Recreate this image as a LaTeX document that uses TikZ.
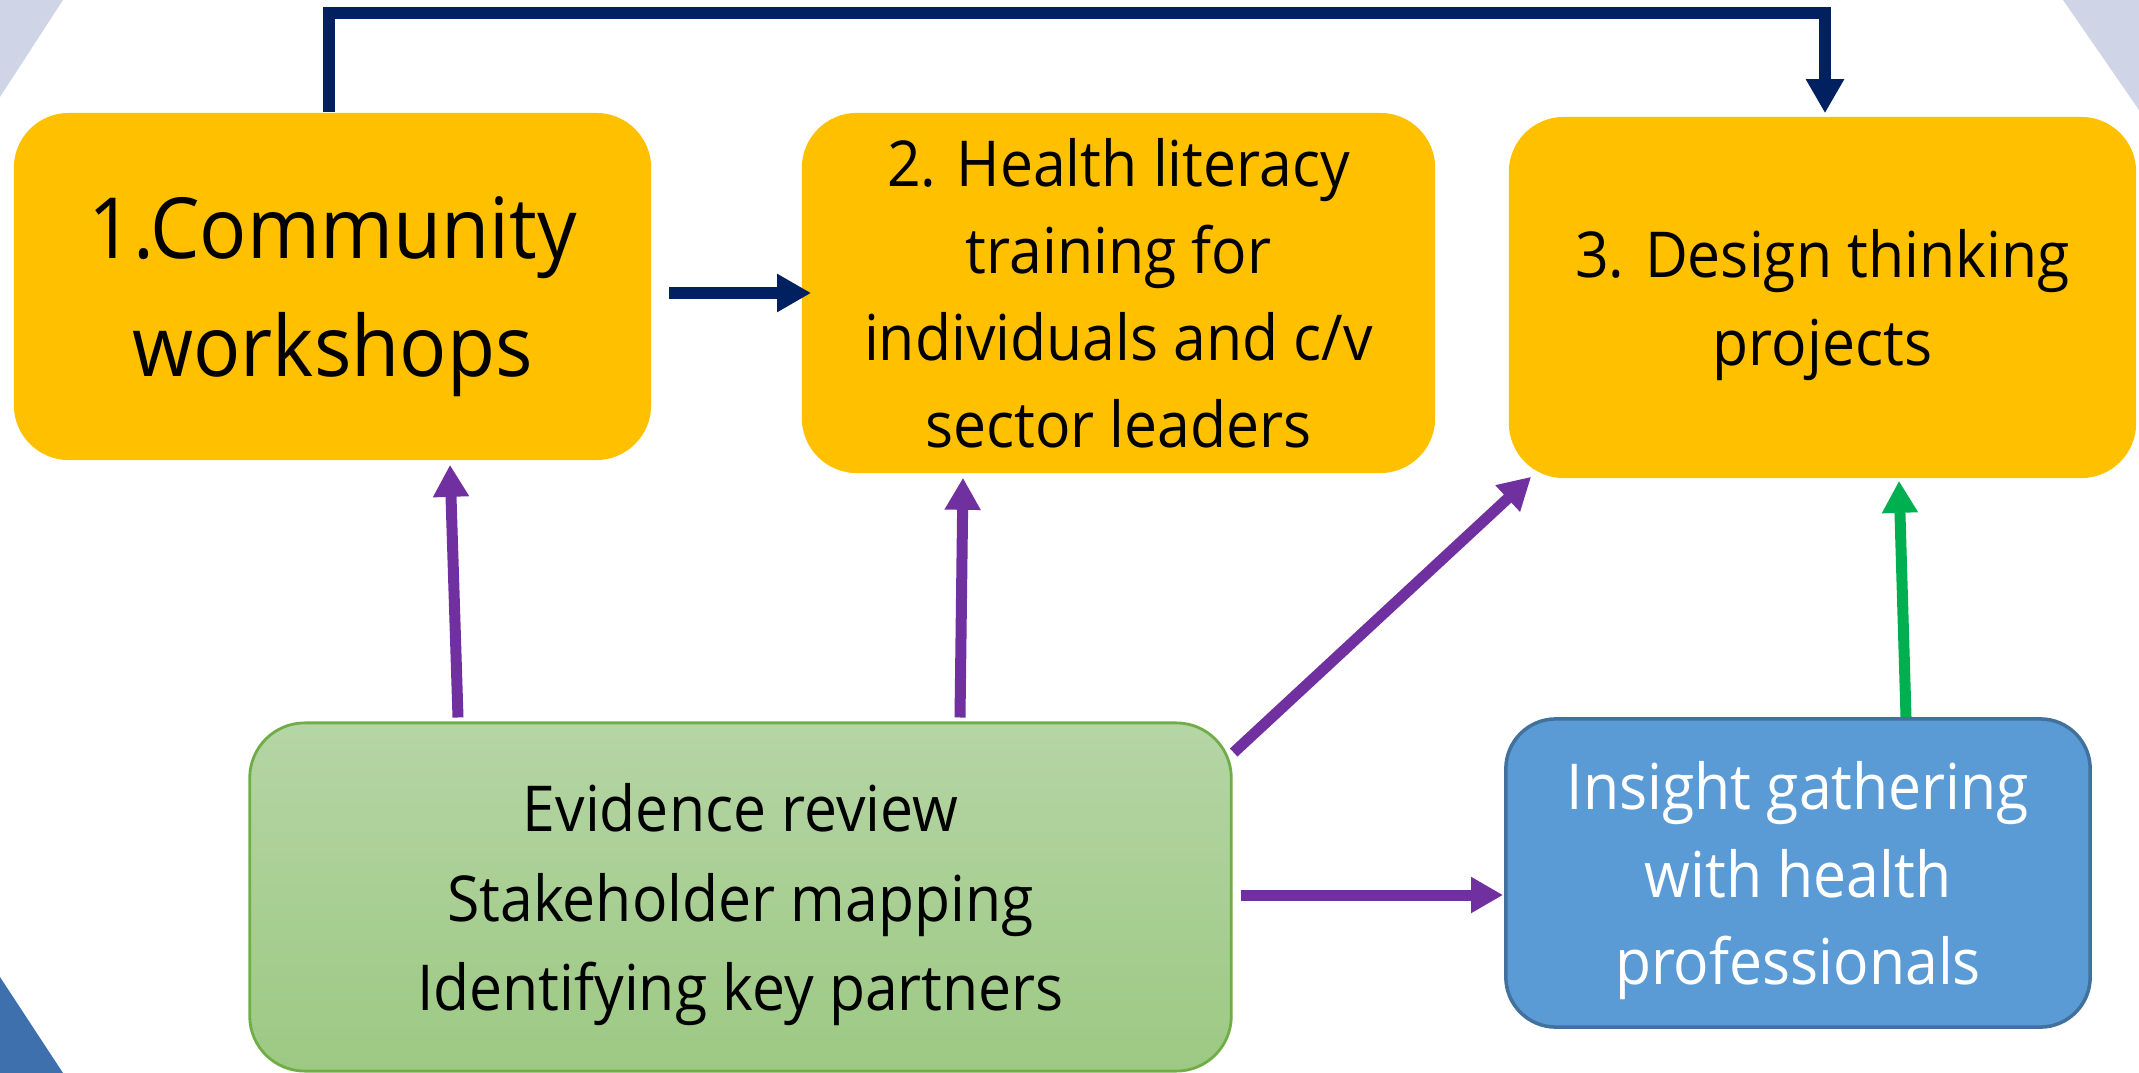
\documentclass[tikz,border=0pt]{standalone}
\usepackage{fontspec}
\setmainfont{Open Sans}
\newfontfamily\condfont[FakeStretch=0.93]{Open Sans}
\newfontfamily\bigfont[FakeStretch=0.93]{Open Sans}
\usetikzlibrary{arrows.meta,shadings,calc}
\definecolor{boxyellow}{HTML}{FFC000}
\definecolor{navyline}{HTML}{002060}
\definecolor{purpline}{HTML}{7030A0}
\definecolor{greenline}{HTML}{00B050}
\definecolor{greentop}{HTML}{B5D5A5}
\definecolor{greenbot}{HTML}{9DC983}
\definecolor{greenedge}{HTML}{70AD47}
\definecolor{bluebox}{HTML}{5B9BD5}
\definecolor{blueedge}{HTML}{41719C}
\definecolor{cornergrey}{HTML}{CFD5E6}
\definecolor{cornerblue}{HTML}{3E70AE}
\tikzset{
  stagebox/.style={fill=boxyellow, rounded corners=0.55cm, inner sep=0pt, align=center, text=black, text depth=0pt},
  greenbox/.style={top color=greentop, bottom color=greenbot, draw=greenedge, line width=0.8pt, rounded corners=0.55cm, inner sep=0pt, align=center, text depth=0pt},
  bluebox/.style={fill=bluebox, draw=blueedge, line width=1pt, rounded corners=0.5cm, inner sep=0pt, align=center, text=white, text depth=0pt},
  navyarrow/.style={draw=navyline, line width=0.12cm, -{Triangle[width=0.36cm,length=0.34cm]}},
  purparrow/.style={draw=purpline, line width=0.11cm, -{Triangle[width=0.34cm,length=0.32cm]}},
  grnarrow/.style={draw=greenline, line width=0.11cm, -{Triangle[width=0.34cm,length=0.32cm]}},
  bigtext/.style={font=\bigfont\fontsize{24}{33.8}\selectfont},
  midtext/.style={font=\condfont\fontsize{18}{24.8}\selectfont},
  condtext/.style={font=\condfont\fontsize{18}{25.4}\selectfont}
}
\begin{document}
\begin{tikzpicture}[x=0.01cm,y=-0.01cm]
\useasboundingbox (0,0) rectangle (2139,1073);
% corner decorations
\fill[cornergrey] (0,0) -- (63,0) -- (0,97) -- cycle;
\fill[cornergrey] (2063,0) -- (2139,0) -- (2139,110) -- cycle;
\fill[cornerblue] (0,977) -- (63,1073) -- (0,1073) -- cycle;
% boxes
\node[stagebox, bigtext, minimum width=6.37cm, minimum height=3.47cm] (b1) at (332.5,286.5) {1.Community\\workshops};
\node[stagebox, midtext, minimum width=6.33cm, minimum height=3.60cm] (b2) at (1118.5,293) {2. Health literacy\\training for\\individuals and c/v\\sector leaders};
\node[stagebox, midtext, minimum width=6.27cm, minimum height=3.61cm] (b3) at (1822.5,297.5) {3. Design thinking\\projects};
\node[greenbox, condtext, minimum width=9.81cm, minimum height=3.48cm] (ev) at (740.5,897) {Evidence review\\Stakeholder mapping\\Identifying key partners};
\node[bluebox, midtext, minimum width=5.84cm, minimum height=3.08cm] (ins) at (1798,873) {Insight gathering\\with health\\professionals};
% navy connectors
\coordinate (topL) at ($(b1.north)+(-3.5,0)$);
\coordinate (topR) at ($(b3.north)+(2.5,-3)$);
\draw[navyarrow] (topL) -- ++(0,-99) -| (topR);
\draw[navyarrow] ($(b1.east)+(17,6.5)$) -- ($(b2.west)+(10,0)$);
% purple connectors
\draw[purparrow] ($(ev.north)+(-282.5,-4)$) -- ($(b1.south)+(117.5,4)$);
\draw[purparrow] ($(ev.north)+(219.5,-4)$) -- ($(b2.south)+(-155.5,4)$);
\draw[purparrow] ($(ev.north east)+(1,31)$) -- ($(b3.south west)+(23,-2)$);
\draw[purparrow] ($(ev.east)+(8,-2)$) -- ($(ins.west)+(-1,22)$);
% green connector
\draw[grnarrow] ($(ins.north)+(108,0)$) -- ($(b3.south)+(76.5,2)$);
\end{tikzpicture}
\end{document}
